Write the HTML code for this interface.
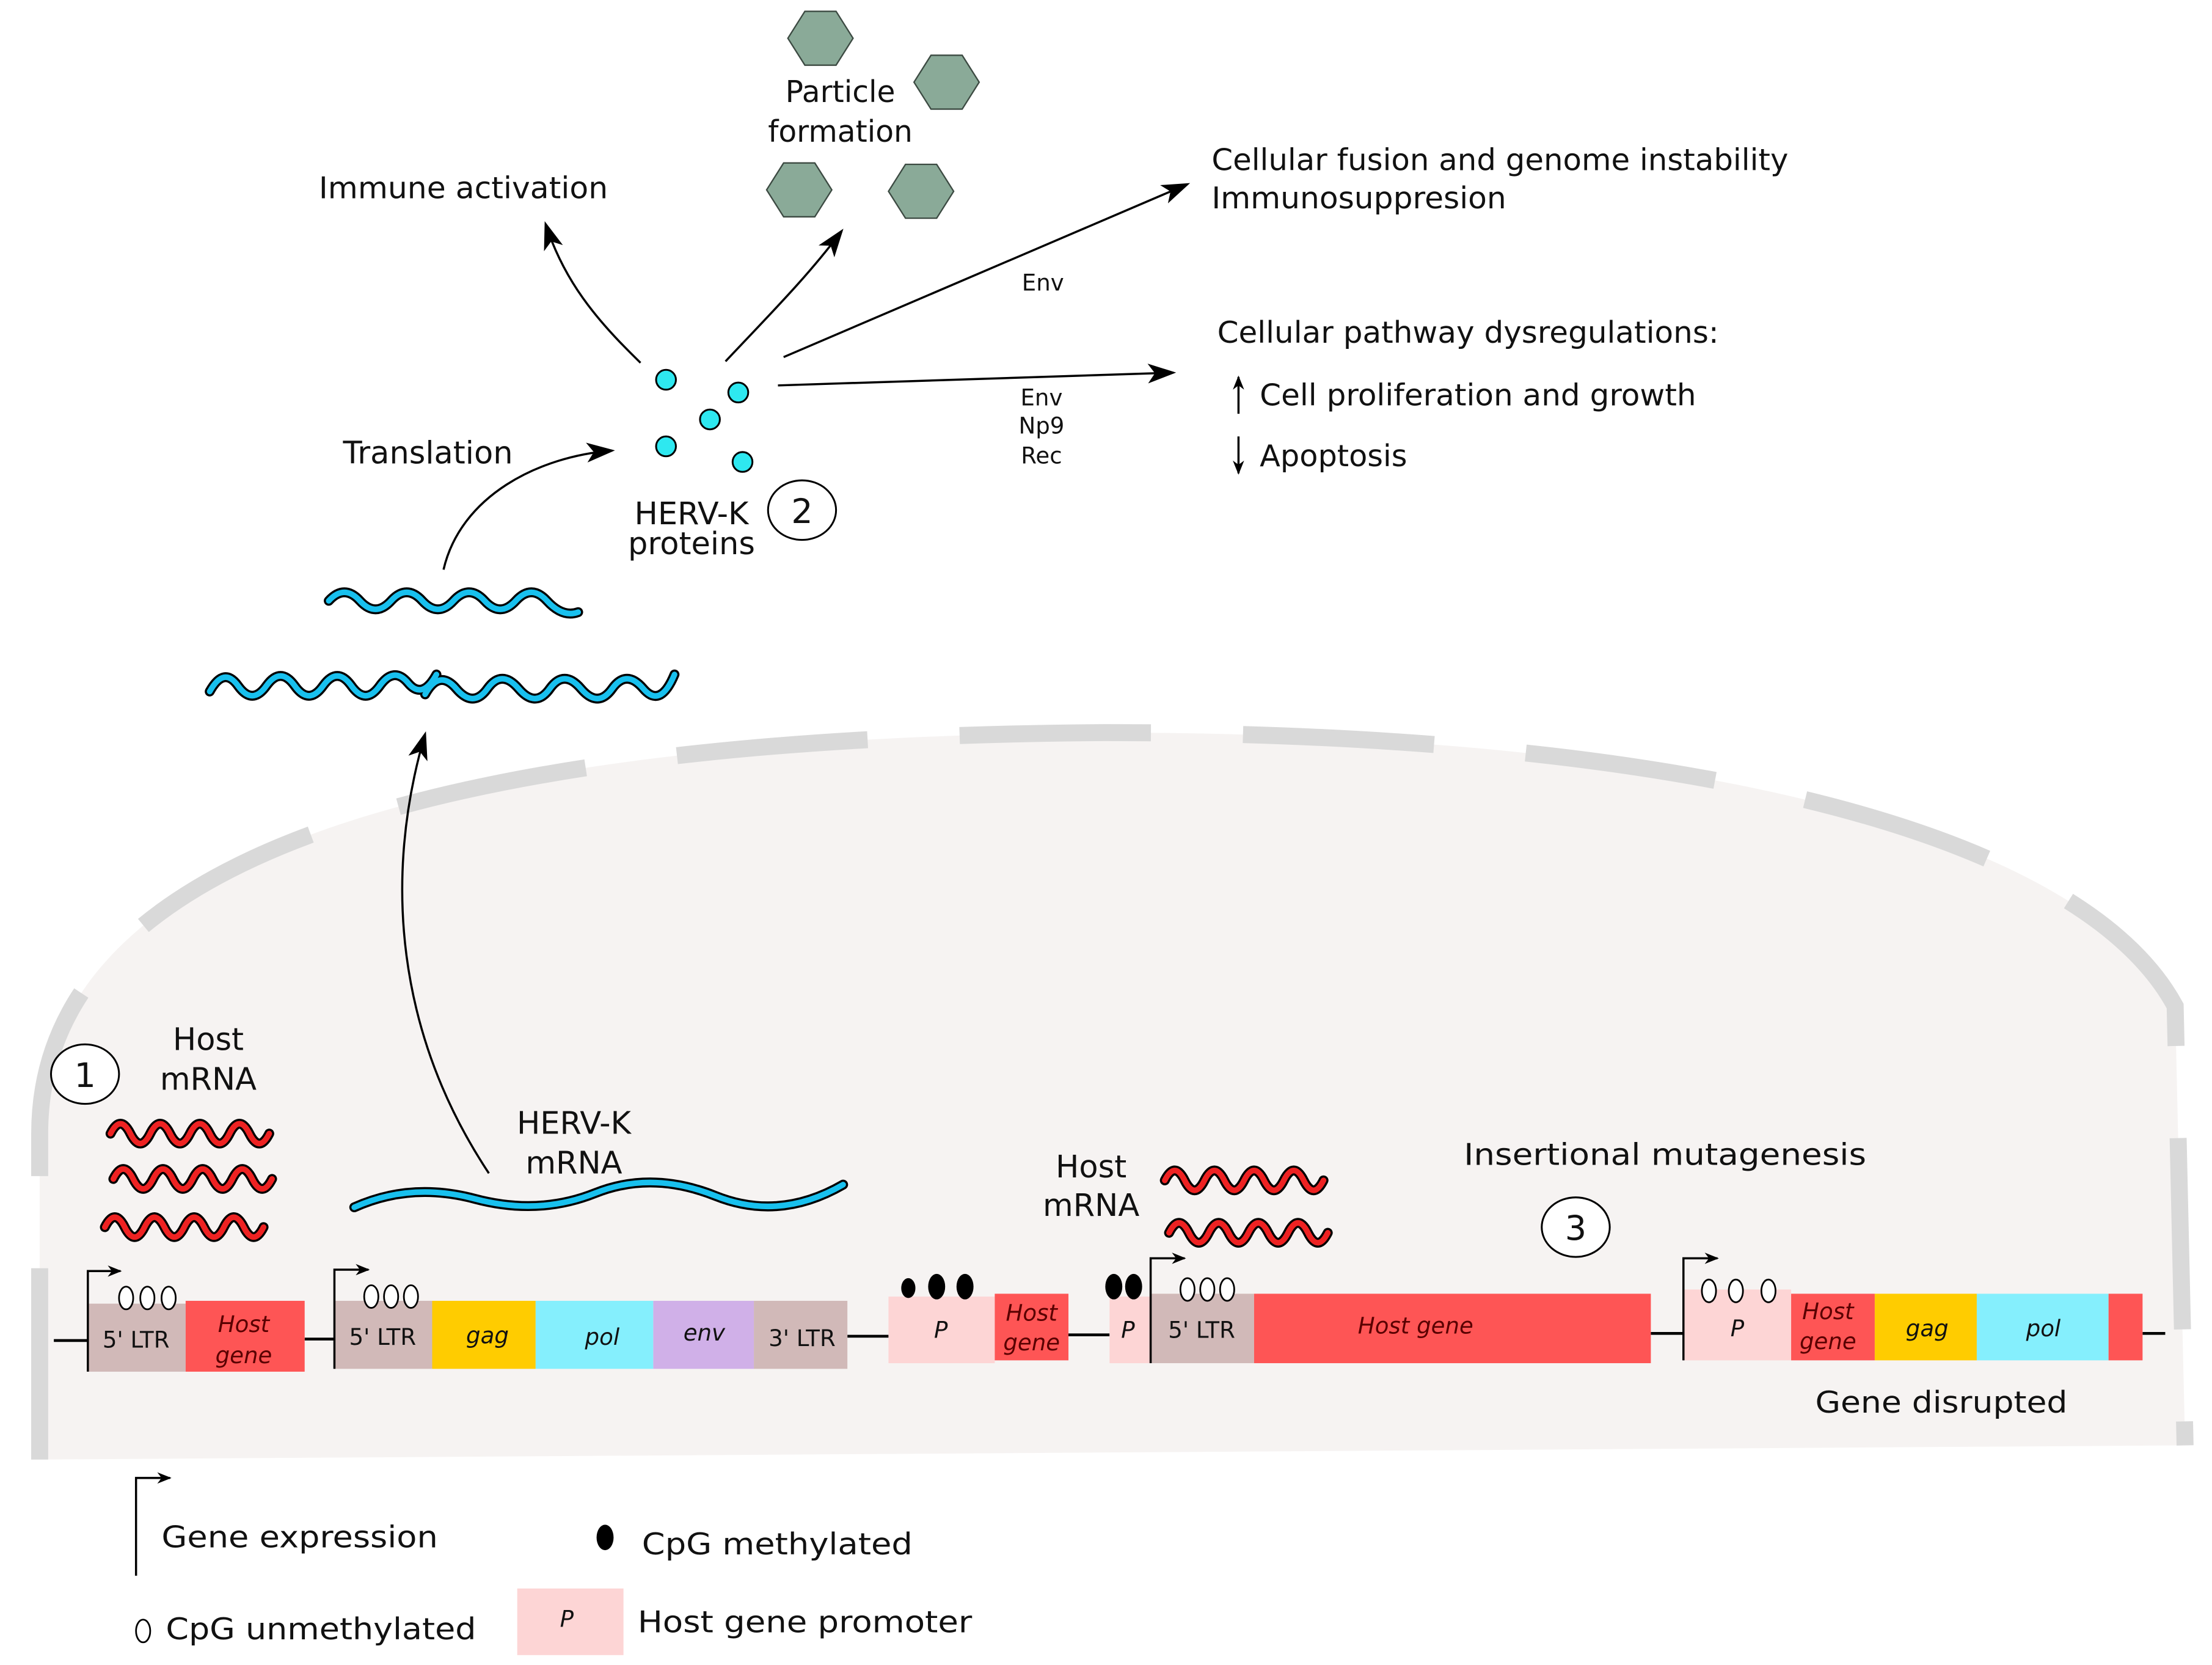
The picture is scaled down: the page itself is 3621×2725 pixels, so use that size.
<!DOCTYPE html>
<html><head><meta charset="utf-8"><style>
html,body{margin:0;padding:0;background:#fff}
svg{display:block}
text{font-family:"DejaVu Sans","Liberation Sans",sans-serif;fill:#111}
.it{font-style:italic}
</style></head><body>
<svg width="3621" height="2725" viewBox="0 0 1561 1175" preserveAspectRatio="none" xmlns="http://www.w3.org/2000/svg">
<defs>
<marker id="ah" markerWidth="10" markerHeight="8" refX="9" refY="4" orient="auto" markerUnits="userSpaceOnUse"><path d="M0,0 L10,4 L0,8 L3,4 Z" fill="#000"/></marker>
<marker id="ahb" markerWidth="20" markerHeight="14" refX="18" refY="7" orient="auto" markerUnits="userSpaceOnUse"><path d="M0,0 L20,7 L0,14 L5,7 Z" fill="#000"/></marker>
</defs>
<rect width="1561" height="1175" fill="#fff"/>
<!-- cell -->
<path d="M28,1030 L28,800 C28,600 320,520 780,517 C1200,517 1470,590 1535,710 L1542,1020 Z" fill="#f6f3f2"/>
<path d="M28,1030 L28,800 C28,600 320,520 780,517 C1200,517 1470,590 1535,710 L1542,1020" fill="none" stroke="#d9d9d9" stroke-width="12" stroke-dasharray="135,65"/>

<g stroke="#000" stroke-width="2">
<line x1="38" y1="946" x2="62" y2="946"/><line x1="215" y1="945" x2="236" y2="945"/>
<line x1="598" y1="943" x2="627" y2="943"/><line x1="754" y1="942" x2="783" y2="942"/>
<line x1="1165" y1="941" x2="1188" y2="941"/><line x1="1512" y1="941" x2="1528" y2="941"/>
</g>
<rect x="62" y="920" width="69" height="48" fill="#d1b9b8"/>
<rect x="131" y="918" width="84" height="50" fill="#fe5555"/>
<rect x="236" y="918" width="69" height="48" fill="#d1b9b8"/>
<rect x="305" y="918" width="73" height="48" fill="#ffcc00"/>
<rect x="378" y="918" width="83" height="48" fill="#85effd"/>
<rect x="461" y="918" width="71" height="48" fill="#d0b0e8"/>
<rect x="532" y="918" width="66" height="48" fill="#d1b9b8"/>
<rect x="627" y="915" width="75" height="47" fill="#fdd5d5"/>
<rect x="702" y="913" width="52" height="47" fill="#fe5555"/>
<rect x="783" y="915" width="32" height="47" fill="#fdd5d5"/>
<rect x="812" y="913" width="73" height="49" fill="#d1b9b8"/>
<rect x="885" y="913" width="280" height="49" fill="#fe5555"/>
<rect x="1188" y="910" width="76" height="50" fill="#fdd5d5"/>
<rect x="1264" y="913" width="59" height="47" fill="#fe5555"/>
<rect x="1323" y="913" width="72" height="47" fill="#ffcc00"/>
<rect x="1395" y="913" width="93" height="47" fill="#85effd"/>
<rect x="1488" y="913" width="24" height="47" fill="#fe5555"/>
<g fill="none" stroke="#000" stroke-width="1.5">
<path d="M62,968 V897 H85" marker-end="url(#ah)"/>
<path d="M236,966 V896 H260" marker-end="url(#ah)"/>
<path d="M812,962 V888 H836" marker-end="url(#ah)"/>
<path d="M1188,960 V888 H1212" marker-end="url(#ah)"/>
<path d="M96,1112 V1043 H120" marker-end="url(#ah)"/>
</g>
<g fill="#fff" stroke="#000" stroke-width="1.2">
<ellipse cx="89" cy="916" rx="5" ry="8"/><ellipse cx="104" cy="916" rx="5" ry="8"/><ellipse cx="119" cy="916" rx="5" ry="8"/>
<ellipse cx="262" cy="915" rx="5" ry="8"/><ellipse cx="276" cy="915" rx="5" ry="8"/><ellipse cx="290" cy="915" rx="5" ry="8"/>
<ellipse cx="838" cy="910" rx="5" ry="8"/><ellipse cx="852" cy="910" rx="5" ry="8"/><ellipse cx="866" cy="910" rx="5" ry="8"/>
<ellipse cx="1206" cy="911" rx="5" ry="8"/><ellipse cx="1225" cy="911" rx="5" ry="8"/><ellipse cx="1248" cy="911" rx="5" ry="8"/>
<ellipse cx="101" cy="1151" rx="5" ry="8"/>
</g>
<g fill="#000">
<ellipse cx="641" cy="909" rx="5" ry="7"/><ellipse cx="661" cy="908" rx="6" ry="9"/><ellipse cx="681" cy="908" rx="6" ry="9"/>
<ellipse cx="786" cy="908" rx="6" ry="9"/><ellipse cx="800" cy="908" rx="6" ry="9"/>
<ellipse cx="427" cy="1085" rx="6" ry="9"/>
</g>
<g font-size="16" text-anchor="middle">
<text x="96" y="951">5' LTR</text>
<text x="270" y="949">5' LTR</text>
<text x="566" y="950">3' LTR</text>
<text x="848" y="944">5' LTR</text>
</g>
<g font-size="16" text-anchor="middle">
<text x="172" y="940" class="it" style="fill:#5a0000">Host</text><text x="172" y="962" class="it" style="fill:#5a0000">gene</text>
<text x="344" y="948" class="it">gag</text>
<text x="425" y="949" class="it">pol</text>
<text x="497" y="946" class="it">env</text>
<text x="664" y="944" class="it">P</text>
<text x="728" y="932" class="it" style="fill:#5a0000">Host</text><text x="728" y="953" class="it" style="fill:#5a0000">gene</text>
<text x="796" y="944" class="it">P</text>
<text x="999" y="941" class="it" style="fill:#5a0000">Host gene</text>
<text x="1226" y="943" class="it">P</text>
<text x="1290" y="931" class="it" style="fill:#5a0000">Host</text><text x="1290" y="952" class="it" style="fill:#5a0000">gene</text>
<text x="1360" y="943" class="it">gag</text>
<text x="1442" y="943" class="it">pol</text>
</g>
<g fill="none" stroke-linecap="round">
<g stroke="#000" stroke-width="7">
<path d="M78,800 q7,-14 14,0 t14,0 t14,0 t14,0 t14,0 t14,0 t14,0 t14,0"/>
<path d="M80,832 q7,-14 14,0 t14,0 t14,0 t14,0 t14,0 t14,0 t14,0 t14,0"/>
<path d="M74,866 q7,-14 14,0 t14,0 t14,0 t14,0 t14,0 t14,0 t14,0 t14,0"/>
<path d="M822,833 q7,-14 14,0 t14,0 t14,0 t14,0 t14,0 t14,0 t14,0 t14,0"/>
<path d="M825,870 q7,-14 14,0 t14,0 t14,0 t14,0 t14,0 t14,0 t14,0 t14,0"/>
</g>
<g stroke="#ee2222" stroke-width="4">
<path d="M78,800 q7,-14 14,0 t14,0 t14,0 t14,0 t14,0 t14,0 t14,0 t14,0"/>
<path d="M80,832 q7,-14 14,0 t14,0 t14,0 t14,0 t14,0 t14,0 t14,0 t14,0"/>
<path d="M74,866 q7,-14 14,0 t14,0 t14,0 t14,0 t14,0 t14,0 t14,0 t14,0"/>
<path d="M822,833 q7,-14 14,0 t14,0 t14,0 t14,0 t14,0 t14,0 t14,0 t14,0"/>
<path d="M825,870 q7,-14 14,0 t14,0 t14,0 t14,0 t14,0 t14,0 t14,0 t14,0"/>
</g>
<g stroke="#000" stroke-width="7">
<path d="M250,852 q40,-18 85,-6 t85,-4 t85,2 t90,-8"/>
<path d="M232,424 q11,-12 22,0 t22,0 t22,0 t22,0 t22,0 t22,0 t22,0 t22,8"/>
<path d="M148,488 q10,-18 20,-4 t20,0 t20,0 t20,0 t20,0 t20,0 t20,-2 t20,-6"/>
<path d="M300,490 q10,-18 22,-4 t22,0 t22,0 t22,0 t22,0 t22,0 t22,0 t22,-10"/>
</g>
<g stroke="#18c0ee" stroke-width="4">
<path d="M250,852 q40,-18 85,-6 t85,-4 t85,2 t90,-8"/>
<path d="M232,424 q11,-12 22,0 t22,0 t22,0 t22,0 t22,0 t22,0 t22,0 t22,8"/>
<path d="M148,488 q10,-18 20,-4 t20,0 t20,0 t20,0 t20,0 t20,0 t20,-2 t20,-6"/>
<path d="M300,490 q10,-18 22,-4 t22,0 t22,0 t22,0 t22,0 t22,0 t22,0 t22,-10"/>
</g>
</g>
<g fill="none" stroke="#000" stroke-width="1.5">
<path d="M345,828 C280,730 270,620 300,518" marker-end="url(#ahb)"/>
<path d="M313,402 C325,350 380,322 432,318" marker-end="url(#ahb)"/>
<path d="M452,256 C420,225 398,198 385,158" marker-end="url(#ahb)"/>
<path d="M512,255 C545,220 570,195 594,163" marker-end="url(#ahb)"/>
<path d="M553,252 L838,130" marker-end="url(#ahb)"/>
<path d="M549,272 L828,263" marker-end="url(#ahb)"/>
<path d="M874,292 V266" marker-end="url(#ah)"/>
<path d="M874,308 V334" marker-end="url(#ah)"/>
</g>
<g fill="#2ee8f0" stroke="#000" stroke-width="1.3">
<circle cx="470" cy="268" r="7"/><circle cx="521" cy="277" r="7"/><circle cx="501" cy="296" r="7"/>
<circle cx="470" cy="315" r="7"/><circle cx="524" cy="326" r="7"/>
</g>
<g fill="#8aaa98" stroke="#3c4a42" stroke-width="1">
<polygon points="556,27 568,8 590,8 602,27 590,46 568,46"/>
<polygon points="645,58 657,39 679,39 691,58 679,77 657,77"/>
<polygon points="541,134 553,115 575,115 587,134 575,153 553,153"/>
<polygon points="627,135 639,116 661,116 673,135 661,154 639,154"/>
</g>
<g fill="#fff" stroke="#000" stroke-width="1.3">
<ellipse cx="60" cy="758" rx="24" ry="21"/>
<ellipse cx="566" cy="360" rx="24" ry="21"/>
<ellipse cx="1112" cy="866" rx="24" ry="21"/>
</g>
<g font-size="24" text-anchor="middle">
<text x="60" y="767">1</text><text x="566" y="369">2</text><text x="1112" y="875">3</text>
</g>
<g font-size="22" text-anchor="middle">
<text x="147" y="741">Host</text><text x="147" y="769">mRNA</text>
<text x="405" y="800">HERV-K</text><text x="405" y="828">mRNA</text>
<text x="770" y="831">Host</text><text x="770" y="858">mRNA</text>
<text x="488" y="370">HERV-K</text><text x="488" y="391">proteins</text>
<text x="302" y="327">Translation</text>
</g>
<g font-size="21" lengthAdjust="spacingAndGlyphs">
<text x="1033" y="822" textLength="284" lengthAdjust="spacingAndGlyphs">Insertional mutagenesis</text>
<text x="1281" y="997" textLength="178" lengthAdjust="spacingAndGlyphs">Gene disrupted</text>
<text x="225" y="140" textLength="204" lengthAdjust="spacingAndGlyphs">Immune activation</text>
<text x="593" y="72" text-anchor="middle">Particle</text>
<text x="593" y="100" text-anchor="middle">formation</text>
<text x="855" y="120" textLength="407" lengthAdjust="spacingAndGlyphs">Cellular fusion and genome instability</text>
<text x="855" y="147" textLength="208" lengthAdjust="spacingAndGlyphs">Immunosuppresion</text>
<text x="859" y="242" textLength="354" lengthAdjust="spacingAndGlyphs">Cellular pathway dysregulations:</text>
<text x="889" y="286" textLength="308" lengthAdjust="spacingAndGlyphs">Cell proliferation and growth</text>
<text x="889" y="329" textLength="104" lengthAdjust="spacingAndGlyphs">Apoptosis</text>
<text x="114" y="1092" textLength="195" lengthAdjust="spacingAndGlyphs">Gene expression</text>
<text x="453" y="1097" textLength="191" lengthAdjust="spacingAndGlyphs">CpG methylated</text>
<text x="117" y="1157" textLength="219" lengthAdjust="spacingAndGlyphs">CpG unmethylated</text>
<text x="450" y="1152" textLength="236" lengthAdjust="spacingAndGlyphs">Host gene promoter</text>
</g>
<g font-size="16" text-anchor="middle">
<text x="736" y="205">Env</text>
<text x="735" y="286">Env</text><text x="735" y="306">Np9</text><text x="735" y="327">Rec</text>
</g>
<rect x="365" y="1121" width="75" height="47" fill="#fdd5d5"/>
<text x="400" y="1148" font-size="16" text-anchor="middle" class="it">P</text>
</svg>
</body></html>
